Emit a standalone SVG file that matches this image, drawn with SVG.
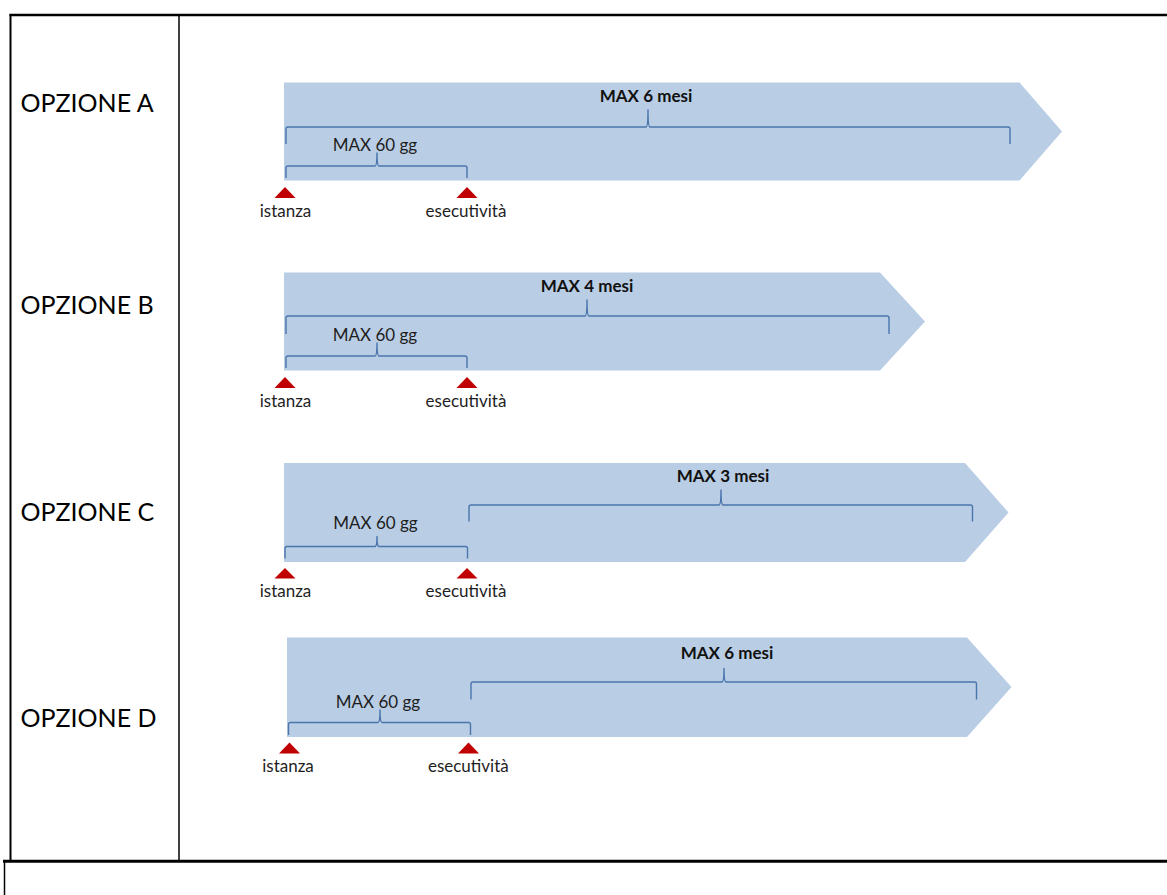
<svg xmlns="http://www.w3.org/2000/svg" width="1167" height="895" viewBox="0 0 1167 895">
<style>
.bg{fill:#ffffff}
.grid{stroke:#000;fill:none}
.chev{fill:#b9cde5}
.brace{fill:none;stroke:#4a75ad;stroke-width:1.4;stroke-linejoin:round}
.mark{fill:#c00000}
.opt{font-family:Lato,"Open Sans","Liberation Sans",sans-serif;font-size:25px;fill:#000}
.lbl{font-family:Lato,"Open Sans","Liberation Sans",sans-serif;font-size:17px;fill:#1e1e1e;text-anchor:middle}
.big{font-family:Lato,"Open Sans","Liberation Sans",sans-serif;font-size:17px;font-weight:bold;fill:#111;text-anchor:middle}
</style>
<rect class="bg" x="0" y="0" width="1167" height="895"/>
<g id="table">
<line class="grid" x1="9.5" y1="15" x2="1167" y2="15" stroke-width="2.5"/>
<line class="grid" x1="10.5" y1="14" x2="10.5" y2="862" stroke-width="2"/>
<line class="grid" x1="179" y1="15" x2="179" y2="861" stroke-width="1.5"/>
<line class="grid" x1="3" y1="861.3" x2="1167" y2="861.3" stroke-width="3"/>
<line class="grid" x1="4.5" y1="860" x2="4.5" y2="895" stroke-width="1.5"/>
</g>

<g id="option-a">
<text class="opt" x="20.5" y="111.7">OPZIONE A</text>
<path class="chev" d="M284,82.5 H1019.5 L1062,131.5 L1019.5,180.5 H284 Z"/>
<path class="brace" d="M286,144 V129 Q286,127 288,127 H646 Q648,127 648,110 Q648,127 650,127 H1008 Q1010,127 1010,129 V144"/>
<text class="big" x="646" y="102">MAX 6 mesi</text>
<path class="brace" d="M286,178 V168 Q286,166 288,166 H375 Q377,166 377,153 Q377,166 379,166 H465 Q467,166 467,168 V178"/>
<text class="lbl" x="375" y="151">MAX 60 gg</text>
<path class="mark" d="M285,187 L295.5,198 H274.5 Z"/>
<path class="mark" d="M467,187 L477.5,198 H456.5 Z"/>
<text class="lbl" x="285.5" y="216.5">istanza</text>
<text class="lbl" x="466" y="216.5">esecutività</text>
</g>

<g id="option-b">
<text class="opt" x="20.5" y="313.7">OPZIONE B</text>
<path class="chev" d="M284,272.5 H880 L925,321.5 L880,370.5 H284 Z"/>
<path class="brace" d="M286,334 V318 Q286,316 288,316 H585 Q587,316 587,300 Q587,316 589,316 H887 Q889,316 889,318 V334"/>
<text class="big" x="587" y="292">MAX 4 mesi</text>
<path class="brace" d="M286,368 V358 Q286,356 288,356 H375 Q377,356 377,343 Q377,356 379,356 H465 Q467,356 467,358 V368"/>
<text class="lbl" x="375" y="341">MAX 60 gg</text>
<path class="mark" d="M285,377 L295.5,388 H274.5 Z"/>
<path class="mark" d="M467,377 L477.5,388 H456.5 Z"/>
<text class="lbl" x="285.5" y="406.5">istanza</text>
<text class="lbl" x="466" y="406.5">esecutività</text>
</g>

<g id="option-c">
<text class="opt" x="20.5" y="520.7">OPZIONE C</text>
<path class="chev" d="M284,463 H965 L1008.5,512.5 L965,562 H284 Z"/>
<path class="brace" d="M469,521.5 V507 Q469,505 471,505 H719 Q721,505 721,490 Q721,505 723,505 H970.5 Q972.5,505 972.5,507 V521.5"/>
<text class="big" x="723" y="481.5">MAX 3 mesi</text>
<path class="brace" d="M285,558.5 V548.5 Q285,546.5 287,546.5 H375 Q377,546.5 377,536.5 Q377,546.5 379,546.5 H465.5 Q467.5,546.5 467.5,548.5 V558.5"/>
<text class="lbl" x="375.5" y="528.5">MAX 60 gg</text>
<path class="mark" d="M285,568 L295.5,578.5 H274.5 Z"/>
<path class="mark" d="M467,568 L477.5,578.5 H456.5 Z"/>
<text class="lbl" x="285.5" y="596.7">istanza</text>
<text class="lbl" x="466" y="596.7">esecutività</text>
</g>

<g id="option-d">
<text class="opt" x="20.5" y="726.7">OPZIONE D</text>
<path class="chev" d="M287,637.5 H967 L1011.5,687 L967,737 H287 Z"/>
<path class="brace" d="M471,699.5 V684 Q471,682 473,682 H722 Q724,682 724,668.5 Q724,682 726,682 H974.5 Q976.5,682 976.5,684 V699.5"/>
<text class="big" x="727" y="658.5">MAX 6 mesi</text>
<path class="brace" d="M288.5,735 V724.5 Q288.5,722.5 290.5,722.5 H378 Q380,722.5 380,710 Q380,722.5 382,722.5 H468.5 Q470.5,722.5 470.5,724.5 V735"/>
<text class="lbl" x="378" y="707.5">MAX 60 gg</text>
<path class="mark" d="M289.5,742.5 L300,753.5 H279 Z"/>
<path class="mark" d="M468.5,742.5 L479,753.5 H458 Z"/>
<text class="lbl" x="288" y="771.7">istanza</text>
<text class="lbl" x="468.3" y="771.7">esecutività</text>
</g>
</svg>
